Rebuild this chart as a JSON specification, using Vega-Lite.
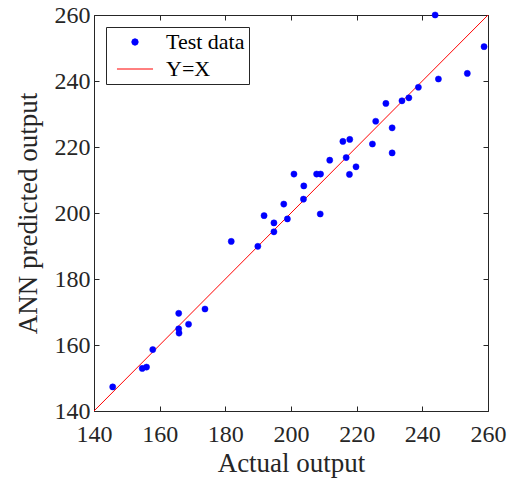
{
  "$schema": "https://vega.github.io/schema/vega-lite/v6.json",
  "width": 394,
  "height": 396,
  "autosize": {"type": "none"},
  "padding": {"left": 94, "top": 15, "right": 19, "bottom": 72},
  "background": "white",
  "config": {
    "view": {"stroke": null},
    "font": "Liberation Serif",
    "axis": {
      "grid": false,
      "domainColor": "#262626",
      "domainWidth": 1,
      "tickColor": "#262626",
      "tickSize": -5,
      "labelColor": "#262626",
      "titleColor": "#262626",
      "labelFont": "Liberation Serif",
      "titleFont": "Liberation Serif",
      "labelFontSize": 24,
      "titleFontSize": 27,
      "titleFontWeight": "normal",
      "labelFlush": false
    },
    "legend": {
      "orient": "top-left",
      "offset": 12,
      "strokeColor": "#262626",
      "fillColor": "white",
      "padding": 4,
      "rowPadding": 5,
      "symbolOffset": 14,
      "labelOffset": 20,
      "symbolSize": 40,
      "symbolStrokeWidth": 1,
      "labelFont": "Liberation Serif",
      "labelFontSize": 22,
      "labelColor": "#000000",
      "cornerRadius": 0
    }
  },
  "data": {
    "values": [
      {"series": "Y=X", "actual": 140, "predicted": 140},
      {"series": "Y=X", "actual": 260, "predicted": 260},
      {"series": "Test data", "actual": 145.7, "predicted": 147.3},
      {"series": "Test data", "actual": 154.7, "predicted": 152.9},
      {"series": "Test data", "actual": 156.0, "predicted": 153.3},
      {"series": "Test data", "actual": 157.9, "predicted": 158.6},
      {"series": "Test data", "actual": 165.8, "predicted": 169.6},
      {"series": "Test data", "actual": 165.8, "predicted": 164.9},
      {"series": "Test data", "actual": 165.9, "predicted": 163.6},
      {"series": "Test data", "actual": 168.8, "predicted": 166.3},
      {"series": "Test data", "actual": 173.8, "predicted": 170.9},
      {"series": "Test data", "actual": 181.8, "predicted": 191.4},
      {"series": "Test data", "actual": 189.9, "predicted": 189.9},
      {"series": "Test data", "actual": 191.8, "predicted": 199.2},
      {"series": "Test data", "actual": 194.8, "predicted": 197.0},
      {"series": "Test data", "actual": 194.8, "predicted": 194.3},
      {"series": "Test data", "actual": 197.8, "predicted": 202.7},
      {"series": "Test data", "actual": 198.9, "predicted": 198.2},
      {"series": "Test data", "actual": 200.9, "predicted": 211.8},
      {"series": "Test data", "actual": 203.8, "predicted": 204.2},
      {"series": "Test data", "actual": 203.9, "predicted": 208.2},
      {"series": "Test data", "actual": 207.8, "predicted": 211.8},
      {"series": "Test data", "actual": 209.0, "predicted": 211.8},
      {"series": "Test data", "actual": 208.9, "predicted": 199.7},
      {"series": "Test data", "actual": 211.8, "predicted": 216.0},
      {"series": "Test data", "actual": 215.8, "predicted": 221.7},
      {"series": "Test data", "actual": 216.8, "predicted": 216.8},
      {"series": "Test data", "actual": 217.9, "predicted": 222.3},
      {"series": "Test data", "actual": 217.8, "predicted": 211.7},
      {"series": "Test data", "actual": 219.8, "predicted": 214.0},
      {"series": "Test data", "actual": 224.8, "predicted": 220.9},
      {"series": "Test data", "actual": 225.8, "predicted": 227.8},
      {"series": "Test data", "actual": 228.9, "predicted": 233.2},
      {"series": "Test data", "actual": 230.8, "predicted": 225.8},
      {"series": "Test data", "actual": 230.8, "predicted": 218.2},
      {"series": "Test data", "actual": 233.8, "predicted": 234.0},
      {"series": "Test data", "actual": 235.9, "predicted": 234.9},
      {"series": "Test data", "actual": 238.8, "predicted": 238.1},
      {"series": "Test data", "actual": 243.9, "predicted": 260.0},
      {"series": "Test data", "actual": 244.9, "predicted": 240.6},
      {"series": "Test data", "actual": 253.7, "predicted": 242.3},
      {"series": "Test data", "actual": 258.8, "predicted": 250.4}
    ]
  },
  "layer": [
    {
      "transform": [{"filter": "datum.series === 'Y=X'"}],
      "mark": {"type": "line", "color": "#FF0000", "strokeWidth": 1, "clip": true},
      "encoding": {
        "x": {
          "field": "actual", "type": "quantitative",
          "scale": {"domain": [140, 260], "nice": false, "zero": false},
          "axis": {"orient": "top", "values": [140, 160, 180, 200, 220, 240, 260], "labels": false, "title": null}
        },
        "y": {
          "field": "predicted", "type": "quantitative",
          "scale": {"domain": [140, 260], "nice": false, "zero": false},
          "axis": {"orient": "right", "values": [140, 160, 180, 200, 220, 240, 260], "labels": false, "title": null}
        }
      }
    },
    {
      "transform": [{"filter": "datum.series === 'Test data'"}],
      "mark": {"type": "point", "filled": true, "size": 38, "opacity": 1, "strokeWidth": 0.5},
      "encoding": {
        "x": {
          "field": "actual", "type": "quantitative",
          "axis": {"orient": "bottom", "values": [140, 160, 180, 200, 220, 240, 260], "title": "Actual output", "labelPadding": 16, "titlePadding": 4}
        },
        "y": {
          "field": "predicted", "type": "quantitative",
          "axis": {"orient": "left", "values": [140, 160, 180, 200, 220, 240, 260], "title": "ANN predicted output", "labelPadding": 9, "labelOffset": 0, "titlePadding": 12}
        },
        "fill": {
          "field": "series", "type": "nominal",
          "scale": {"domain": ["Test data", "Y=X"], "range": ["#0000FF", "#FF0000"]},
          "legend": {"title": null}
        },
        "stroke": {
          "field": "series", "type": "nominal",
          "scale": {"domain": ["Test data", "Y=X"], "range": ["#0000FF", "#FF0000"]},
          "legend": {"title": null}
        },
        "shape": {
          "field": "series", "type": "nominal",
          "scale": {"domain": ["Test data", "Y=X"], "range": ["circle", "M-5.7,0H5.7"]},
          "legend": {"title": null}
        }
      }
    }
  ],
  "resolve": {"axis": {"x": "independent", "y": "independent"}}
}
